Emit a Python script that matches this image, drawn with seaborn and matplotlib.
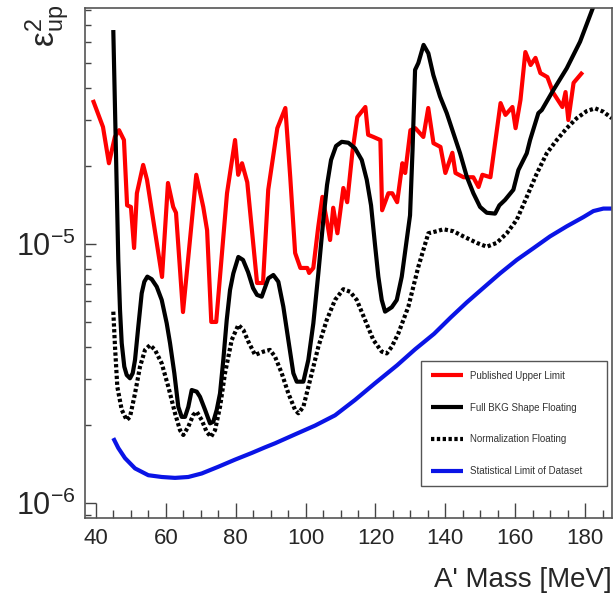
import matplotlib
matplotlib.use("Agg")
import matplotlib.pyplot as plt
import matplotlib.ticker as mticker
import seaborn as sns

# ---------------- data ----------------
red_mass = [39.1, 42.0, 43.7, 45.4, 46.6, 48.0, 48.9, 50.0, 50.9, 51.7, 53.5, 54.6,
            58.9, 60.6, 62.1, 62.9, 64.9, 68.7, 70.7, 71.8, 73.0, 74.4, 77.5, 79.8,
            80.7, 81.8, 83.3, 86.1, 87.8, 89.3, 91.9, 94.2, 95.6, 97.0, 98.5, 100.5,
            101.0, 102.2, 103.6, 104.8, 106.2, 107.0, 107.9, 109.1, 110.8, 111.9, 113.4,
            114.8, 117.1, 117.9, 119.4, 121.4, 121.9, 123.7, 124.8, 126.2, 127.7, 128.5,
            130.0, 131.4, 133.7, 135.1, 136.6, 138.6, 140.0, 142.0, 142.9, 145.2, 148.0,
            149.5, 150.6, 152.9, 155.8, 157.2, 159.2, 160.1, 161.5, 162.9, 164.4, 165.8,
            167.2, 169.2, 170.9, 173.5, 174.4, 175.2, 176.7, 179.3]
red_eps = [3.60e-5, 2.83e-5, 2.05e-5, 2.59e-5, 2.75e-5, 2.52e-5, 1.41e-5, 1.39e-5, 0.965e-5,
           1.57e-5, 2.02e-5, 1.77e-5, 0.746e-5, 1.72e-5, 1.39e-5, 1.32e-5, 0.546e-5, 1.85e-5,
           1.39e-5, 1.13e-5, 0.50e-5, 0.50e-5, 1.57e-5, 2.52e-5, 1.85e-5, 2.05e-5, 1.73e-5,
           0.707e-5, 0.707e-5, 1.62e-5, 2.80e-5, 3.35e-5, 1.81e-5, 0.923e-5, 0.808e-5,
           0.808e-5, 0.773e-5, 0.808e-5, 1.16e-5, 1.52e-5, 1.205e-5, 1.036e-5, 1.38e-5,
           1.10e-5, 1.645e-5, 1.45e-5, 2.27e-5, 3.09e-5, 3.38e-5, 2.64e-5, 2.59e-5, 2.52e-5,
           1.35e-5, 1.57e-5, 1.57e-5, 1.45e-5, 2.05e-5, 1.88e-5, 2.75e-5, 2.80e-5, 2.59e-5,
           3.35e-5, 2.45e-5, 2.37e-5, 1.88e-5, 2.25e-5, 1.88e-5, 1.81e-5, 1.81e-5, 1.66e-5,
           1.85e-5, 1.81e-5, 3.50e-5, 3.15e-5, 3.38e-5, 2.80e-5, 3.60e-5, 5.51e-5, 4.91e-5,
           5.23e-5, 4.57e-5, 4.41e-5, 3.83e-5, 3.38e-5, 3.86e-5, 3.01e-5, 4.19e-5, 4.61e-5]

full_mass = [44.95, 46.38, 46.87, 47.36, 48.10, 48.79, 49.73, 50.51, 51.17, 52.11, 53.08,
             53.83, 54.69, 55.95, 57.38, 58.81, 60.24, 61.19, 62.42, 63.56, 64.53, 65.48,
             66.42, 67.40, 68.83, 69.77, 71.21, 72.64, 73.58, 74.56, 75.50, 76.44, 77.42,
             78.36, 79.31, 80.74, 82.08, 83.52, 84.95, 86.09, 87.44, 89.33, 90.76, 92.19,
             93.62, 95.05, 96.49, 97.46, 99.35, 100.78, 102.21, 103.64, 105.07, 106.13,
             107.28, 108.71, 110.34, 112.23, 114.15, 116.07, 117.50, 118.73, 119.87, 120.82,
             121.79, 122.74, 124.66, 126.09, 127.52, 128.95, 129.89, 130.61, 131.33, 132.27,
             133.76, 135.13, 136.56, 138.48, 140.40, 142.29, 144.21, 146.13, 148.02, 149.94,
             151.85, 154.23, 155.46, 157.09, 159.47, 160.90, 163.30, 164.25, 166.62, 167.60,
             170.92, 174.75, 178.56, 182.37, 184.29]
full_eps = [6.70e-5, 8.68e-6, 5.56e-6, 4.14e-6, 3.36e-6, 3.12e-6, 3.03e-6, 3.17e-6, 3.57e-6,
            4.80e-6, 6.45e-6, 7.15e-6, 7.48e-6, 7.31e-6, 6.84e-6, 6.08e-6, 4.94e-6, 4.14e-6,
            3.17e-6, 2.35e-6, 2.15e-6, 2.15e-6, 2.35e-6, 2.73e-6, 2.69e-6, 2.57e-6, 2.29e-6,
            2.03e-6, 2.06e-6, 2.29e-6, 2.65e-6, 3.57e-6, 5.09e-6, 6.64e-6, 7.70e-6, 8.91e-6,
            8.68e-6, 7.79e-6, 6.76e-6, 6.36e-6, 6.26e-6, 7.37e-6, 7.59e-6, 7.15e-6, 5.73e-6,
            4.26e-6, 3.17e-6, 2.94e-6, 2.94e-6, 3.57e-6, 4.94e-6, 7.70e-6, 1.24e-5, 1.69e-5,
            2.11e-5, 2.39e-5, 2.48e-5, 2.46e-5, 2.34e-5, 2.11e-5, 1.77e-5, 1.41e-5, 9.91e-6,
            7.48e-6, 6.08e-6, 5.48e-6, 5.70e-6, 6.08e-6, 7.48e-6, 1.04e-5, 1.29e-5, 2.31e-5,
            4.70e-5, 5.00e-5, 5.87e-5, 5.45e-5, 4.49e-5, 3.71e-5, 3.20e-5, 2.68e-5, 2.24e-5,
            1.82e-5, 1.57e-5, 1.39e-5, 1.32e-5, 1.31e-5, 1.41e-5, 1.48e-5, 1.62e-5, 1.93e-5,
            2.24e-5, 2.52e-5, 3.20e-5, 3.29e-5, 3.93e-5, 4.77e-5, 6.04e-5, 8.25e-5, 9.57e-5]

norm_mass = [44.95, 45.44, 46.10, 47.36, 48.79, 49.73, 51.17, 52.60, 54.03, 55.46, 56.89,
             58.81, 60.70, 62.62, 64.05, 64.99, 66.42, 67.86, 68.83, 70.26, 71.69, 72.92,
             74.07, 75.50, 76.93, 78.85, 80.74, 82.17, 83.60, 85.52, 87.90, 89.81, 91.25,
             93.16, 95.05, 96.97, 97.92, 99.35, 101.27, 103.64, 106.05, 108.42, 110.80,
             112.72, 114.64, 117.01, 119.39, 121.79, 123.22, 124.66, 126.55, 129.41, 132.27,
             135.13, 137.54, 139.43, 142.29, 145.15, 148.99, 151.85, 154.71, 157.58, 160.44,
             163.30, 166.17, 169.03, 171.89, 174.75, 177.62, 180.48, 182.86, 185.23, 187.64]
norm_eps = [5.48e-6, 4.01e-6, 2.81e-6, 2.29e-6, 2.09e-6, 2.15e-6, 2.65e-6, 3.36e-6, 3.90e-6,
            4.07e-6, 3.90e-6, 3.46e-6, 2.81e-6, 2.22e-6, 1.91e-6, 1.83e-6, 1.97e-6, 2.19e-6,
            2.25e-6, 2.09e-6, 1.88e-6, 1.80e-6, 1.91e-6, 2.35e-6, 3.17e-6, 4.26e-6, 4.87e-6,
            4.66e-6, 4.20e-6, 3.73e-6, 3.84e-6, 3.90e-6, 3.67e-6, 3.17e-6, 2.65e-6, 2.29e-6,
            2.22e-6, 2.35e-6, 2.98e-6, 4.01e-6, 5.09e-6, 6.08e-6, 6.69e-6, 6.54e-6, 6.08e-6,
            5.09e-6, 4.26e-6, 3.84e-6, 3.78e-6, 4.01e-6, 4.52e-6, 5.73e-6, 8.17e-6, 1.10e-5,
            1.12e-5, 1.14e-5, 1.12e-5, 1.07e-5, 1.01e-5, 9.76e-6, 1.01e-5, 1.10e-5, 1.24e-5,
            1.52e-5, 1.87e-5, 2.24e-5, 2.52e-5, 2.80e-5, 3.06e-5, 3.26e-5, 3.34e-5, 3.24e-5,
            3.06e-5]

stat_mass = [44.95, 46.38, 48.30, 51.17, 54.97, 58.81, 62.62, 66.42, 70.26, 75.01, 79.79,
             84.58, 88.38, 91.25, 96.97, 102.70, 108.42, 114.15, 119.87, 126.17, 131.33,
             136.77, 141.50, 146.13, 151.86, 155.66, 160.44, 165.20, 169.97, 174.75, 179.51,
             182.37, 185.23, 187.64]
stat_eps = [1.78e-6, 1.63e-6, 1.49e-6, 1.36e-6, 1.28e-6, 1.26e-6, 1.25e-6, 1.26e-6, 1.30e-6,
            1.38e-6, 1.47e-6, 1.56e-6, 1.64e-6, 1.70e-6, 1.84e-6, 1.99e-6, 2.18e-6, 2.50e-6,
            2.90e-6, 3.40e-6, 3.92e-6, 4.50e-6, 5.20e-6, 5.95e-6, 6.95e-6, 7.70e-6, 8.68e-6,
            9.63e-6, 1.07e-5, 1.17e-5, 1.27e-5, 1.34e-5, 1.37e-5, 1.37e-5]

series_labels = ["Published Upper Limit", "Full BKG Shape Floating",
                 "Normalization Floating", "Statistical Limit of Dataset"]
x_ticks = [40, 60, 80, 100, 120, 140, 160, 180]
y_ticks = [1e-6, 1e-5]
y_tick_labels = [r"$\mathregular{10^{-6}}$", r"$\mathregular{10^{-5}}$"]
x_label = "A' Mass [MeV]"
y_label = r"$\mathregular{ε^{2}_{up}}$"

# ---------------- figure ----------------
sns.set_theme(style="white")
plt.rcParams["font.family"] = ["Liberation Sans", "DejaVu Sans"]
plt.rcParams["mathtext.fontset"] = "custom"
plt.rcParams["mathtext.rm"] = "Liberation Sans"
plt.rcParams["mathtext.it"] = "Liberation Sans:italic"

fig = plt.figure(figsize=(6.15, 5.99), dpi=100)
ax = fig.add_axes([85 / 615, 1 - 518 / 599, 527 / 615, 510 / 599])

lw = 3.0
common = dict(linewidth=lw, ax=ax, sort=False, solid_joinstyle="round",
              solid_capstyle="butt")
sns.lineplot(x=red_mass, y=red_eps, color="#ff0000", label=series_labels[0], **common)
sns.lineplot(x=full_mass, y=full_eps, color="black", label=series_labels[1], **common)
sns.lineplot(x=norm_mass, y=norm_eps, color="black", linestyle=(0, (0.8, 0.6)),
             label=series_labels[2], **common)
sns.lineplot(x=stat_mass, y=stat_eps, color="#0a14e6", label=series_labels[3], **common)

ax.set_yscale("log")
ax.set_xlim(36.85, 187.7)
ax.set_ylim(8.75e-7, 8.15e-5)

ax.xaxis.set_major_locator(mticker.FixedLocator(x_ticks))
ax.xaxis.set_minor_locator(mticker.MultipleLocator(5))
ax.yaxis.set_major_locator(mticker.FixedLocator(y_ticks))
ax.yaxis.set_major_formatter(mticker.FixedFormatter(y_tick_labels))
ax.yaxis.set_minor_locator(mticker.LogLocator(base=10, subs=range(2, 10), numticks=20))
ax.yaxis.set_minor_formatter(mticker.NullFormatter())

ax.tick_params(axis="x", which="major", direction="in", length=11, width=1,
               labelsize=16, pad=7, color="#444444", top=False, bottom=True)
ax.tick_params(axis="x", which="minor", direction="in", length=5.5, width=1,
               color="#444444", top=False, bottom=True)
ax.tick_params(axis="y", which="major", direction="in", length=8, width=1,
               labelsize=22, pad=7, color="#444444", left=True, right=False)
ax.tick_params(axis="y", which="minor", direction="in", length=4.5, width=1,
               color="#444444", left=True, right=False)

for side, sp in ax.spines.items():
    sp.set_color("#555555")
    sp.set_linewidth(1.2)

ax.set_xlabel(x_label, fontsize=20, ha="right")
ax.xaxis.set_label_coords(1.0, -0.096)
ax.xaxis.label.set_va("top")
ax.set_ylabel("")
ax.text(-0.025, 1.006, y_label, rotation=90, ha="right", va="top",
        fontsize=24, transform=ax.transAxes)

leg = ax.legend(loc="upper left", bbox_to_anchor=(0.6376, 0.051, 0.353, 0.257),
                mode="expand", fontsize=7, frameon=True, fancybox=False, framealpha=1,
                handlelength=3.3, handletextpad=0.7, labelspacing=2.25,
                borderpad=1.0, borderaxespad=0.0)
leg.get_frame().set_edgecolor("#555555")
leg.get_frame().set_linewidth(1.0)
for h in leg.get_lines():
    h.set_linewidth(3.0)
for t in leg.get_texts():
    t.set_color("#333333")

fig.savefig("out.png", dpi=100)
